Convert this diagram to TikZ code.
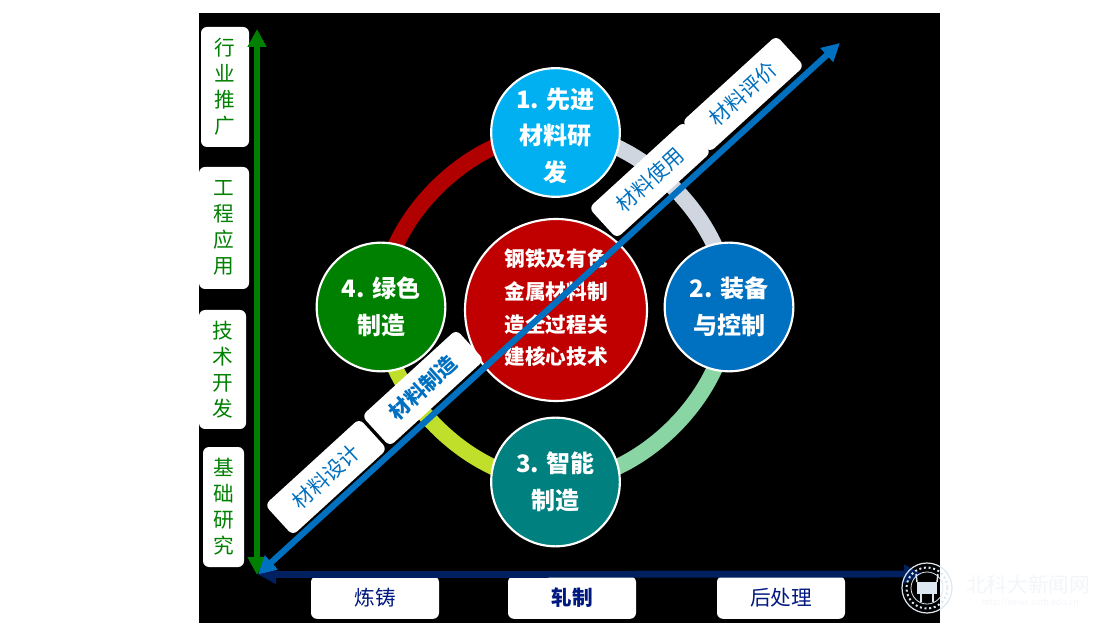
\documentclass[tikz,border=0pt]{standalone}
\usepackage{fontspec}
\setmainfont{Noto Sans CJK SC}
\usetikzlibrary{arrows.meta,backgrounds}
\definecolor{ringred}{HTML}{B00000}
\definecolor{ringgrey}{HTML}{CFD6E0}
\definecolor{ringmint}{HTML}{8AD5A4}
\definecolor{ringlime}{HTML}{BFDF2A}
\definecolor{axisnavy}{HTML}{002060}
\definecolor{axisblue}{HTML}{0070C0}
\definecolor{axisgreen}{HTML}{008000}
\definecolor{topicsky}{HTML}{00B0F0}
\definecolor{topicteal}{HTML}{00807E}
\definecolor{corered}{HTML}{C00000}
\definecolor{marktext}{HTML}{F2F5F9}
\definecolor{markseal}{HTML}{DDE7F1}

\begin{document}
\begin{tikzpicture}[x=.75pt,y=-.75pt,
	topic/.style={circle,draw=white,line width=1.6pt,text=white,align=center,inner sep=-8pt,minimum size=96.5pt,font=\fontsize{18}{27.5}\selectfont\bfseries},
	stagebox/.style={fill=white,rounded corners=4.5pt,text=axisgreen,align=center,inner sep=0pt,font=\fontsize{15.5}{19.5}\selectfont},
	stepbox/.style={fill=white,rounded corners=4.5pt,text=axisnavy!80!blue,inner sep=0pt,minimum width=96pt,minimum height=32pt,font=\fontsize{15.5}{19}\selectfont},
	diagbox/.style={fill=white,rounded corners=4.5pt,text=axisblue,inner sep=0pt,rotate=42.4,minimum width=96pt,minimum height=31pt,font=\fontsize{15.5}{19}\selectfont},
	ringline/.style={line width=12pt,looseness=.88},
	axis/.style={line width=5.2pt,{Triangle[width=13.5pt,length=13.5pt]}-{Triangle[width=13.5pt,length=13.5pt]}}]
	\useasboundingbox (0,0) rectangle (1120,630);
	% four topics round the core
	\node [topic,fill=topicsky] (n1) at (555.5,132.5) {\rule{0pt}{20pt}1. 先进\\材料研\\发};
	\node [topic,fill=axisblue] (n2) at (729,307) {2. 装备\\与控制};
	\node [topic,fill=topicteal] (n3) at (555.5,482) {3. 智能\\制造};
	\node [topic,fill=axisgreen] (n4) at (381,307) {4. 绿色\\制造};
	\node [topic,fill=corered,minimum size=136.5pt,font=\fontsize{15.5}{24.5}\selectfont\bfseries,inner sep=-12pt] (core) at (556,310) {钢铁及有色\\金属材料制\\造全过程关\\\rule[-4.5pt]{0pt}{1pt}建核心技术};
	\begin{scope}[on background layer]
		\fill [black] (199,13) rectangle (940,623);
		\draw [ringline,ringred] (n4.center) to [bend left=45] (n1.center);
		\draw [ringline,ringgrey] (n1.center) to [bend left=45] (n2.center);
		\draw [ringline,ringmint] (n2.center) to [bend left=45] (n3.center);
		\draw [ringline,ringlime] (n3.center) to [bend left=45] (n4.center);
	\end{scope}
	% left column
	\node [stagebox,minimum width=36pt,minimum height=90pt] (s4) at (225,87) {行\\业\\推\\广};
	\node [stagebox,minimum width=37.5pt,minimum height=91.5pt] (s3) at (224,228) {工\\程\\应\\用};
	\node [stagebox,minimum width=35.25pt,minimum height=89.25pt] (s2) at (222.5,369.5) {技\\术\\开\\发};
	\node [stagebox,minimum width=30.75pt,minimum height=90pt] (s1) at (223.5,507) {基\\础\\研\\究};
	% bottom row
	\node [stepbox] (b1) at (375,597.5) {炼铸};
	\node [stepbox,font=\fontsize{15.5}{19}\selectfont\bfseries] (b2) at (572,597.5) {轧制};
	\node [stepbox] (b3) at (781,597.5) {后处理};
	% diagonal labels
	\node [diagbox] (d1) at (326,477) {材料设计};
	\node [diagbox,font=\fontsize{15.5}{19}\selectfont\bfseries] (d2) at (423,388) {材料制造};
	\node [diagbox] (d3) at (650,180) {材料使用};
	\node [diagbox] (d4) at (743,94) {材料评价};
	% axes
	\coordinate (origin) at (258,574.5);
	\coordinate (gtop) at (257,29);
	\coordinate (gbot) at (257,575);
	\coordinate (nend) at (922,574);
	\coordinate (bend) at (840,43);
	\draw [axis,axisgreen] (gbot) -- (gtop);
	\draw [axis,axisnavy] (origin) -- (nend);
	\draw [axis,axisblue,line width=4.6pt] (origin) -- (bend);
	% seal and site name
	\draw [markseal,line width=.9pt] (927,588) circle (25);
	\draw [markseal,line width=1.5pt,dotted] (927,588) circle (20.5);
	\draw [markseal,line width=.6pt] (927,588) circle (16);
	\fill [markseal] (917,582) rectangle (937,594);
	\fill [markseal] (920,594) rectangle (922,602);
	\fill [markseal] (932,594) rectangle (934,602);
	\draw [markseal,line width=1.1pt] (917,582) -- (916,574);
	\draw [markseal,line width=1.1pt] (937,582) -- (938,574);
	\node [text=marktext,inner sep=0pt,font=\fontsize{15.5}{19}\selectfont] (mark) at (1028,585) {北科大新闻网};
	\node [text=marktext,inner sep=0pt,font=\fontsize{6.5}{8}\selectfont] (url) at (1030,603) {http://news.ustb.edu.cn};
\end{tikzpicture}
\end{document}
